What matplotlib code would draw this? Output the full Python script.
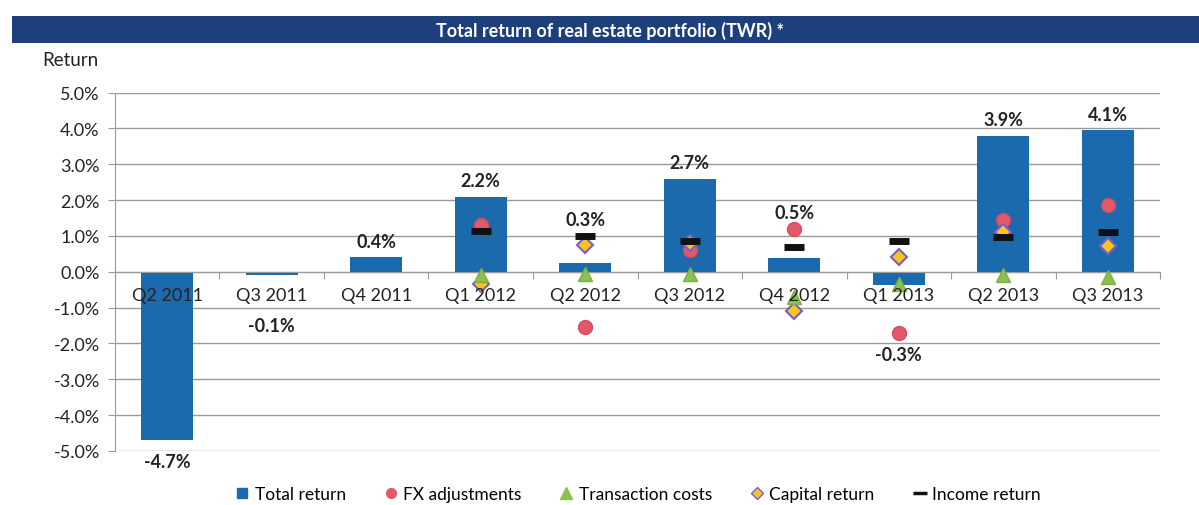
import matplotlib
matplotlib.use("Agg")
import matplotlib.pyplot as plt
import numpy as np
from matplotlib.patches import Rectangle
from matplotlib.lines import Line2D

categories = ["Q2 2011", "Q3 2011", "Q4 2011", "Q1 2012", "Q2 2012",
              "Q3 2012", "Q4 2012", "Q1 2013", "Q2 2013", "Q3 2013"]
total_return = [-4.7, -0.1, 0.4, 2.1, 0.25, 2.6, 0.37, -0.38, 3.8, 3.95]
total_labels = ["-4.7%", "-0.1%", "0.4%", "2.2%", "0.3%", "2.7%", "0.5%", "-0.3%", "3.9%", "4.1%"]
fx_adj = [np.nan, np.nan, np.nan, 1.3, -1.55, 0.6, 1.2, -1.7, 1.45, 1.85]
trans_costs = [np.nan, np.nan, np.nan, -0.1, -0.05, -0.05, -0.7, -0.35, -0.1, -0.15]
capital_ret = [np.nan, np.nan, np.nan, -0.35, 0.75, 0.8, -1.1, 0.4, 1.1, 0.72]
income_ret = [np.nan, np.nan, np.nan, 1.15, 1.0, 0.87, 0.7, 0.87, 0.97, 1.1]

plt.rcParams['font.family'] = ['Lato', 'DejaVu Sans']

fig = plt.figure(figsize=(11.99, 5.06), dpi=100)
ax = fig.add_axes([0.0959, 0.107, 0.8716, 0.708])

BLUE = "#1a6aad"
x = np.arange(len(categories))
ax.bar(x, total_return, width=0.5, color=BLUE, zorder=2)
ax.plot(x, fx_adj, 'o', color="#e05a6c", markersize=10, markeredgecolor="#d94a60", zorder=4)
ax.plot(x, trans_costs, '^', color="#8cc152", markersize=10, markeredgecolor="#7ab040", zorder=5)
ax.plot(x, capital_ret, 'D', color="#f7c51e", markersize=8, markeredgecolor="#7a5fc8",
        markeredgewidth=1.5, zorder=4)
ax.plot(x, income_ret, '_', color="#111111", markersize=15, markeredgewidth=5, zorder=6)

# data labels
for i, (v, lab) in enumerate(zip(total_return, total_labels)):
    others = [s[i] for s in (fx_adj, trans_costs, capital_ret, income_ret) if not np.isnan(s[i])]
    if v >= 0:
        y = max([v] + others) + 0.45
    else:
        y = min([v, -0.9] + others) - 0.6
    ax.text(i, y, lab, ha='center', va='center', fontsize=13, fontweight='bold',
            color="#222222", zorder=7)

# category labels drawn above the bars (as in the reference)
for i, c in enumerate(categories):
    ax.annotate(c, xy=(i, 0), xytext=(0, -17), textcoords='offset points',
                ha='center', va='center', fontsize=13, color="#222222", zorder=8)

ax.set_xlim(-0.5, len(categories) - 0.5)
ax.set_ylim(-5, 5)
ax.set_yticks(np.arange(-5, 5.01, 1))
ax.set_yticklabels([f"{t:.1f}%" for t in np.arange(-5, 5.01, 1)], fontsize=13, color="#222222")
ax.yaxis.grid(True, color="#9a9a9a", linewidth=1)
ax.set_axisbelow(True)

ax.spines['bottom'].set_position(('data', 0))
ax.spines['bottom'].set_color("#9a9a9a")
ax.spines['left'].set_color("#9a9a9a")
ax.spines['top'].set_visible(False)
ax.spines['right'].set_visible(False)
ax.set_xticks(np.arange(-0.5, len(categories)))
ax.set_xticklabels([])
ax.tick_params(axis='x', length=5, color="#9a9a9a", direction='out')
ax.tick_params(axis='y', length=5, color="#9a9a9a", direction='out', pad=6)

# title bar
fig.patches.append(Rectangle((0.010, 1 - 44/506), 0.99, 27/506, transform=fig.transFigure,
                             facecolor="#1d3f7c", edgecolor='none', zorder=0))
fig.text(0.509, 1 - 30.5/506, "Total return of real estate portfolio (TWR) *", color='white',
         fontsize=13, fontweight='bold', ha='center', va='center')
fig.text(0.035, 1 - 60/506, "Return", fontsize=13.5, color="#222222", ha='left', va='center')

handles = [
    Line2D([], [], linestyle='none', marker='s', color=BLUE, markersize=7),
    Line2D([], [], linestyle='none', marker='o', color="#e05a6c", markersize=7),
    Line2D([], [], linestyle='none', marker='^', color="#8cc152", markersize=8),
    Line2D([], [], linestyle='none', marker='D', color="#f7c51e", markeredgecolor="#7a5fc8", markersize=6),
    Line2D([], [], linestyle='none', marker='_', color="#111111", markersize=10, markeredgewidth=2.5),
]
labels = ["Total return", "FX adjustments", "Transaction costs", "Capital return", "Income return"]
fig.legend(handles, labels, loc='center', bbox_to_anchor=(0.532, 1 - 495/506), ncol=5,
           frameon=False, fontsize=12.5, handlelength=0.8, handletextpad=0.3, columnspacing=2.2)

fig.savefig("out.png", dpi=100)
